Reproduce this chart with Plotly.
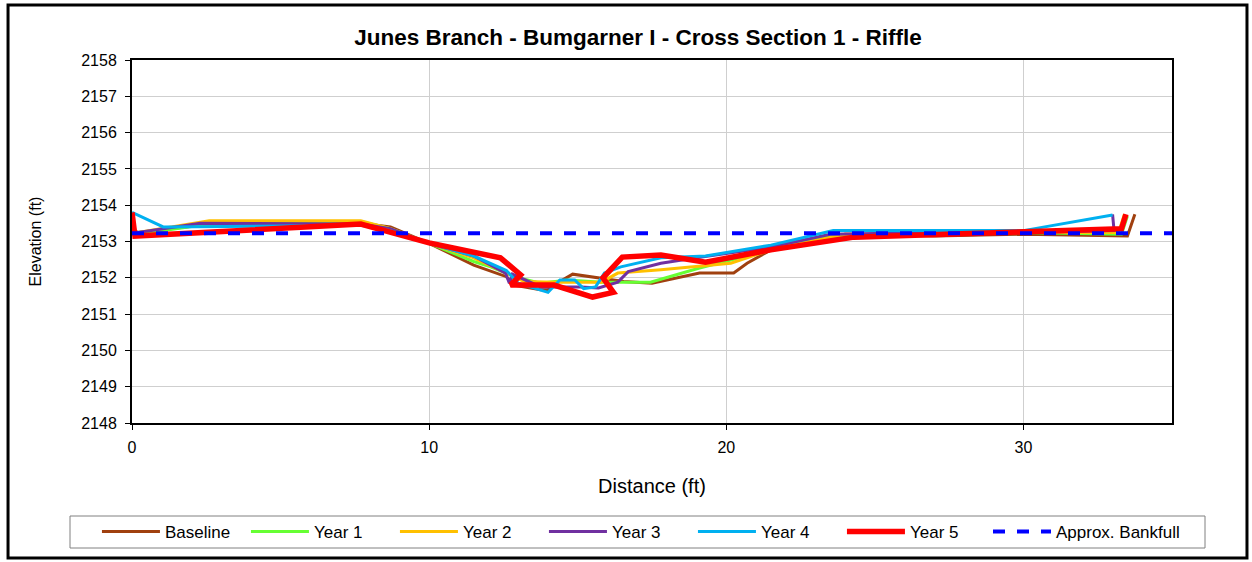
import plotly.graph_objects as go

# distance (ft) / elevation (ft)
base_x = [0, 0.2, 2.3, 7.7, 8.7, 10.0, 11.5, 12.6, 12.85, 13.75, 14.0, 14.3, 14.83, 15.77, 16.55, 17.5, 19.1, 20.25, 20.7, 21.5, 24.0, 27.0, 30.0, 33.5, 33.75]
base_y = [2153.3, 2153.25, 2153.45, 2153.5, 2153.4, 2152.95, 2152.35, 2152.03, 2151.8, 2151.67, 2151.67, 2151.85, 2152.1, 2152.0, 2151.9, 2151.85, 2152.13, 2152.13, 2152.4, 2152.77, 2153.2, 2153.15, 2153.2, 2153.15, 2153.75]

y1_x = [0, 0.2, 2.3, 7.7, 8.7, 10.0, 11.5, 12.07, 13.0, 13.75, 14.66, 15.8, 17.45, 19.1, 21.5, 23.5, 27.0, 30.0, 33.3, 33.5]
y1_y = [2153.3, 2153.2, 2153.45, 2153.55, 2153.35, 2152.95, 2152.45, 2152.3, 2152.0, 2151.85, 2151.94, 2151.88, 2151.88, 2152.27, 2152.77, 2153.15, 2153.2, 2153.25, 2153.2, 2153.7]

y2_x = [0, 0.2, 2.6, 7.7, 8.7, 10.0, 11.5, 12.6, 13.2, 14.2, 15.8, 16.35, 17.8, 20.15, 21.5, 24.0, 27.0, 30.0, 33.2, 33.4]
y2_y = [2153.3, 2153.25, 2153.57, 2153.57, 2153.35, 2152.95, 2152.55, 2152.13, 2151.9, 2151.88, 2151.88, 2152.13, 2152.22, 2152.4, 2152.77, 2153.2, 2153.2, 2153.25, 2153.25, 2153.75]

y3_x = [0, 0.2, 2.3, 7.7, 8.7, 10.0, 11.5, 12.57, 12.7, 12.8, 13.75, 15.1, 15.7, 16.35, 16.7, 17.8, 19.0, 21.5, 23.5, 27.0, 30.0, 33.05, 33.0]
y3_y = [2153.3, 2153.25, 2153.5, 2153.48, 2153.35, 2152.95, 2152.6, 2152.13, 2151.85, 2152.1, 2151.75, 2151.75, 2151.72, 2151.88, 2152.17, 2152.4, 2152.55, 2152.85, 2153.2, 2153.25, 2153.25, 2153.3, 2153.75]

y4_x = [0, 1.05, 7.7, 8.7, 10.0, 11.5, 12.6, 13.0, 14.0, 14.4, 14.9, 15.2, 15.6, 15.9, 16.45, 17.8, 19.3, 21.5, 23.6, 27.0, 30.0, 33.0]
y4_y = [2153.8, 2153.4, 2153.45, 2153.3, 2152.95, 2152.6, 2152.2, 2151.85, 2151.6, 2151.94, 2151.94, 2151.7, 2151.75, 2152.13, 2152.3, 2152.55, 2152.6, 2152.9, 2153.3, 2153.3, 2153.3, 2153.73]

y5_x = [0, 0.1, 7.7, 10.0, 12.4, 13.08, 12.74, 14.2, 15.5, 16.2, 15.85, 16.5, 17.8, 19.3, 21.5, 24.3, 26.6, 30.0, 33.3, 33.45]
y5_y = [2153.8, 2153.15, 2153.48, 2152.96, 2152.55, 2152.08, 2151.8, 2151.8, 2151.47, 2151.6, 2152.0, 2152.57, 2152.63, 2152.43, 2152.77, 2153.12, 2153.18, 2153.27, 2153.35, 2153.75]

bank_x = [0, 35]
bank_y = [2153.23, 2153.23]

series = [
    ('Baseline', base_x, base_y, '#A0400F', 3),
    ('Year 1', y1_x, y1_y, '#66FF33', 3),
    ('Year 2', y2_x, y2_y, '#FFC000', 3),
    ('Year 3', y3_x, y3_y, '#7030A0', 3),
    ('Year 4', y4_x, y4_y, '#00B0F0', 3),
    ('Year 5', y5_x, y5_y, '#FF0000', 5.5),
]

fig = go.Figure()
for name, xs, ys, col, w in series:
    fig.add_trace(go.Scatter(x=xs, y=ys, mode='lines', name=name,
                             line=dict(color=col, width=w)))
# separate legend so the long label is not clipped by the fixed entry width
fig.add_trace(go.Scatter(x=bank_x, y=bank_y, mode='lines', name='Approx. Bankfull',
                         line=dict(color='#0000FF', width=4, dash='dash'), legend='legend2'))

font = 'Liberation Sans, Arial, sans-serif'
fig.update_layout(
    width=1252, height=562,
    margin=dict(l=132, r=80, t=60, b=139),
    paper_bgcolor='white', plot_bgcolor='white',
    font=dict(family=font, size=17, color='black'),
    title=dict(text='<b>Junes Branch - Bumgarner I - Cross Section 1 - Riffle</b>',
               x=638 / 1252, xanchor='center', y=1 - 37 / 562, yanchor='middle', font=dict(size=22.5)),
    xaxis=dict(range=[0, 35], dtick=10, showgrid=True, gridcolor='#cfcfcf', gridwidth=1,
               showline=True, linecolor='black', linewidth=2, mirror=True,
               ticks='outside', ticklen=5, tickcolor='black', zeroline=False,
               tickfont=dict(size=16), ticklabelstandoff=4,
               title=dict(text='Distance (ft)', standoff=24)),
    yaxis=dict(range=[2148, 2158], dtick=1, showgrid=True, gridcolor='#cfcfcf', gridwidth=1,
               showline=True, linecolor='black', linewidth=2, mirror=True,
               ticks='outside', ticklen=5, tickcolor='black', zeroline=False,
               tickfont=dict(size=16), ticklabelstandoff=5,
               tickformat='d', title=dict(text='Elevation (ft)', standoff=36, font=dict(size=16))),
    legend=dict(orientation='h', x=-0.0337, xanchor='left', y=-0.30, yanchor='middle',
                borderwidth=0, itemwidth=58, entrywidth=76, bgcolor='rgba(0,0,0,0)',
                font=dict(size=17)),
    legend2=dict(orientation='h', x=(988 - 132) / 1040, xanchor='left', y=-0.30, yanchor='middle',
                 borderwidth=0, itemwidth=58, bgcolor='rgba(0,0,0,0)', font=dict(size=17)),
    shapes=[
        dict(type='rect', xref='paper', yref='paper', x0=-0.1192, x1=1.0721,
             y0=-0.3719, y1=1.1515, line=dict(color='black', width=3)),
        dict(type='rect', xref='paper', yref='paper', x0=(70 - 132) / 1040, x1=(1205 - 132) / 1040,
             y0=(423 - 548) / 363, y1=(423 - 516) / 363, line=dict(color='#808080', width=1)),
    ],
)

fig.write_html('out.html', config={'displayModeBar': False},
               post_script="document.body.style.margin='0';")
